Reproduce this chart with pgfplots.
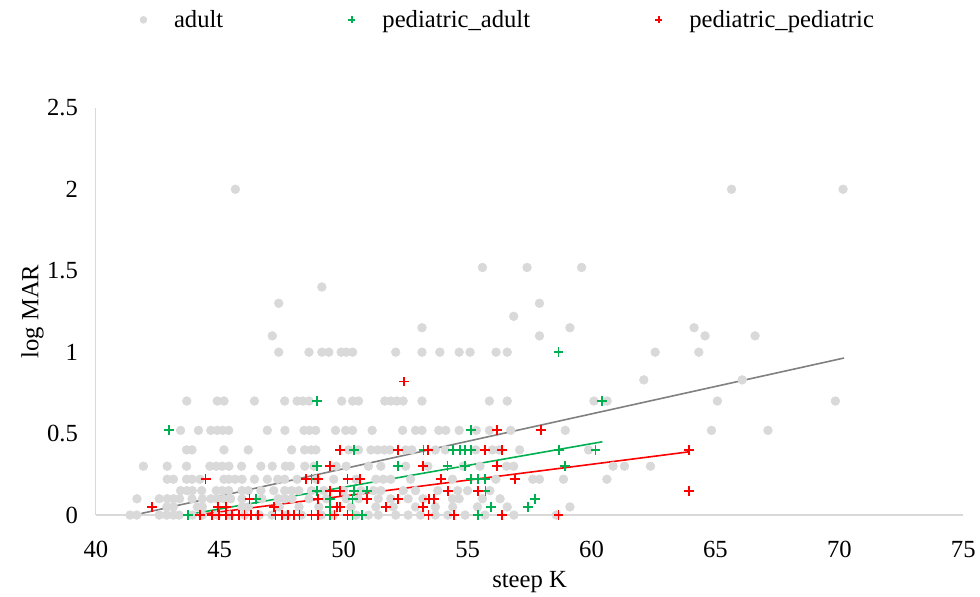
\documentclass[border=0pt]{standalone}
\usepackage{fontspec}
\setmainfont{Liberation Serif}
\usepackage{pgfplots}
\pgfplotsset{compat=1.18}

\definecolor{dotgray}{HTML}{D9D9D9}
\definecolor{axisgray}{HTML}{D9D9D9}
\definecolor{trendgray}{HTML}{808080}
\definecolor{pgreen}{HTML}{00B050}
\definecolor{pred}{HTML}{FF0000}

\begin{document}
\begin{tikzpicture}
\begin{axis}[
    scale only axis, width=651.75pt, height=306pt,
    xmin=40, xmax=75, ymin=0, ymax=2.5,
    xtick={40,45,...,75}, ytick={0,0.5,1,1.5,2,2.5},
    axis x line=bottom, axis y line=left,
    axis line style={draw=axisgray, line width=1pt, -},
    major tick length=0pt,
    clip=false,
    font=\fontsize{18.5}{20}\selectfont,
    /pgf/number format/assume math mode=true,
    yticklabel style={xshift=-10pt},
    xticklabel style={yshift=-16pt},
    xlabel={steep K}, ylabel={log MAR},
    xlabel style={at={(axis description cs:0.5,-0.164)}, anchor=center},
    ylabel style={at={(axis description cs:-0.073,0.5)}, anchor=center, rotate=0},
    legend columns=3,
    legend style={draw=none, fill=none, at={(axis description cs:0.046,1.216)}, anchor=west,
        /tikz/every even column/.append style={column sep=92pt},
        font=\fontsize{18.5}{20}\selectfont},
    legend image code/.code={%
        \draw[#1, mark size=2.6pt] plot coordinates {(0pt,0pt)};
        \path[draw=none, fill=none] (-2.3pt,-2.3pt) rectangle (21pt,2.3pt);},
    pplus/.style={only marks, mark=+, mark size=3.7pt, line width=1.3pt,
        color=#1, mark options={draw=#1, line width=1.3pt, solid}},
]
% adult
\addplot[color=dotgray, only marks, mark=*, mark size=3.3pt, mark options={draw=dotgray, fill=dotgray}] coordinates {
(45.63,2) (65.65,2) (70.15,2)
(55.6,1.52) (57.4,1.52) (59.6,1.52)
(49.12,1.4)
(47.38,1.3) (57.9,1.3)
(56.86,1.22)
(53.16,1.15) (59.13,1.15) (64.14,1.15)
(47.12,1.1) (57.9,1.1) (64.58,1.1) (66.6,1.1)
(47.38,1) (48.6,1) (49.12,1) (49.4,1) (49.9,1) (50.1,1) (50.36,1) (52.1,1) (53.16,1) (53.88,1) (54.66,1) (55.1,1) (56.15,1) (56.6,1) (62.57,1) (64.33,1)
(62.11,0.83) (66.08,0.83)
(43.67,0.7) (44.9,0.7) (45.17,0.7) (46.4,0.7) (47.62,0.7) (48.12,0.7) (48.35,0.7) (48.6,0.7) (49.92,0.7) (50.36,0.7) (50.6,0.7) (51.66,0.7) (51.9,0.7) (52.14,0.7) (52.4,0.7) (53.16,0.7) (55.88,0.7) (56.6,0.7) (60.1,0.7) (60.63,0.7) (65.08,0.7) (69.84,0.7)
(43.42,0.52) (44.14,0.52) (44.64,0.52) (44.9,0.52) (45.12,0.52) (45.36,0.52) (46.92,0.52) (47.63,0.52) (48.4,0.52) (48.62,0.52) (48.87,0.52) (49.67,0.52) (50.08,0.52) (50.36,0.52) (51.15,0.52) (52.38,0.52) (52.9,0.52) (53.16,0.52) (53.84,0.52) (54.12,0.52) (54.66,0.52) (55.35,0.52) (55.88,0.52) (56.74,0.52) (58.94,0.52) (64.84,0.52) (67.12,0.52)
(43.66,0.4) (43.88,0.4) (45.17,0.4) (46.15,0.4) (47.9,0.4) (48.42,0.4) (48.69,0.4) (48.88,0.4) (50.2,0.4) (50.6,0.4) (51.1,0.4) (51.37,0.4) (51.64,0.4) (51.87,0.4) (52.5,0.4) (52.75,0.4) (53.7,0.4) (54.1,0.4) (55.33,0.4) (56,0.4) (56.27,0.4) (57.1,0.4) (59.88,0.4)
(41.92,0.3) (42.88,0.3) (43.66,0.3) (44.6,0.3) (44.86,0.3) (45.1,0.3) (45.37,0.3) (45.88,0.3) (46.66,0.3) (47.12,0.3) (47.65,0.3) (47.85,0.3) (48.43,0.3) (48.8,0.3) (49.7,0.3) (50.1,0.3) (51,0.3) (51.5,0.3) (52.5,0.3) (53.4,0.3) (54.82,0.3) (55.5,0.3) (56.57,0.3) (56.86,0.3) (60.87,0.3) (61.33,0.3) (62.38,0.3)
(42.88,0.22) (43.13,0.22) (43.66,0.22) (43.88,0.22) (44.2,0.22) (45.17,0.22) (45.36,0.22) (45.62,0.22) (45.9,0.22) (46.4,0.22) (46.92,0.22) (47.34,0.22) (47.62,0.22) (48.12,0.22) (48.9,0.22) (49.6,0.22) (50.5,0.22) (51.3,0.22) (51.6,0.22) (51.9,0.22) (52.7,0.22) (54.39,0.22) (56.14,0.22) (57.63,0.22) (57.9,0.22) (58.87,0.22) (60.62,0.22)
(43.42,0.15) (43.68,0.15) (43.89,0.15) (44.27,0.15) (44.86,0.15) (45.1,0.15) (45.36,0.15) (45.9,0.15) (46.15,0.15) (46.66,0.15) (47.18,0.15) (47.62,0.15) (47.9,0.15) (48.19,0.15) (48.7,0.15) (49.2,0.15) (50,0.15) (50.7,0.15) (51.2,0.15) (51.5,0.15) (52.4,0.15) (52.9,0.15) (53.8,0.15) (54.6,0.15) (55,0.15) (55.9,0.15)
(41.66,0.1) (42.56,0.1) (42.88,0.1) (43.14,0.1) (43.38,0.1) (43.88,0.1) (44.3,0.1) (44.64,0.1) (44.9,0.1) (45.17,0.1) (45.44,0.1) (45.9,0.1) (46.7,0.1) (47.36,0.1) (47.62,0.1) (47.92,0.1) (48.6,0.1) (49.3,0.1) (50.1,0.1) (50.6,0.1) (51.4,0.1) (51.9,0.1) (52.6,0.1) (53.2,0.1) (54.39,0.1) (54.66,0.1) (55.6,0.1) (56.31,0.1)
(42.86,0.05) (43.13,0.05) (44.1,0.05) (44.3,0.05) (45.9,0.05) (46.15,0.05) (47.4,0.05) (48.2,0.05) (49,0.05) (50.3,0.05) (51.3,0.05) (52,0.05) (52.9,0.05) (53.7,0.05) (54.4,0.05) (55.4,0.05) (56.6,0.05) (59.13,0.05)
(41.38,0) (41.65,0) (42.56,0) (42.86,0) (43.13,0) (43.36,0) (43.9,0) (44.3,0) (44.9,0) (45.4,0) (46,0) (46.6,0) (47.1,0) (47.7,0) (48.3,0) (49.1,0) (49.6,0) (50.5,0) (51,0) (51.4,0) (52.1,0) (52.6,0) (53.1,0) (53.7,0) (54.2,0) (54.9,0) (55.7,0) (56.87,0) (58.58,0)
};
\addlegendentry{adult}
% pediatric_adult
\addplot[pplus=pgreen] coordinates {
(42.95,0.52) (43.72,0) (46.47,0.1) (48.7,0.22) (48.93,0.7) (48.93,0.3) (48.93,0.15)
(49.45,0.1) (49.45,0.05) (49.45,0) (50.43,0.4) (50.43,0.15) (50.36,0.1) (50.36,0)
(50.74,0) (50.95,0.15) (52.18,0.3) (53.22,0.4) (54.19,0.3) (54.42,0.4) (54.69,0.4)
(54.9,0.4) (54.9,0.3) (55.15,0.4) (55.15,0.52) (55.15,0.22) (55.42,0.22) (55.69,0.22)
(55.72,0.15) (55.42,0) (55.94,0.05) (57.44,0.05) (57.72,0.1) (58.67,1) (58.69,0.4)
(58.94,0.3) (60.16,0.4) (60.43,0.7)
};
\addlegendentry{pediatric\_adult}
% pediatric_pediatric
\addplot[pplus=pred] coordinates {
(42.26,0.05) (44.2,0) (44.43,0.22) (44.7,0) (44.94,0.05) (44.97,0) (45.24,0.05)
(45.24,0) (45.5,0) (45.77,0) (46,0) (46.2,0.1) (46.27,0) (46.54,0) (47.18,0.05)
(47.25,0) (47.52,0) (47.76,0) (48,0) (48.22,0) (48.48,0.22) (48.7,0) (48.95,0.22)
(48.95,0.1) (48.95,0) (49.45,0.3) (49.45,0.15) (49.63,0) (49.72,0.05) (49.85,0.4)
(49.85,0.15) (49.85,0.05) (50.16,0.22) (50.16,0) (50.66,0.22) (50.94,0.1) (51.72,0.05)
(52.18,0.4) (52.18,0.1) (52.43,0.82) (53.21,0.3) (53.21,0.05) (53.4,0.4) (53.42,0)
(53.45,0.1) (53.65,0.1) (53.92,0.22) (54.22,0.15) (54.46,0) (55.42,0.15) (55.7,0.4)
(56.2,0.52) (56.2,0.3) (56.4,0.4) (56.4,0) (56.92,0.22) (57.96,0.52) (58.67,0)
(63.92,0.4) (63.92,0.15)
};
\addlegendentry{pediatric\_pediatric}
% trend lines
\addplot[trendgray, line width=1.2pt, forget plot] coordinates {(41.84,0.01) (70.19,0.964)};
\addplot[pgreen, line width=1.2pt, forget plot] coordinates {(43.6,0) (60.44,0.45)};
\addplot[pred, line width=1.2pt, forget plot] coordinates {(44.2,0.004) (63.92,0.388)};
\end{axis}
\path (-72pt,-61.5pt) rectangle (662.25pt,387pt);
\end{tikzpicture}
\end{document}
